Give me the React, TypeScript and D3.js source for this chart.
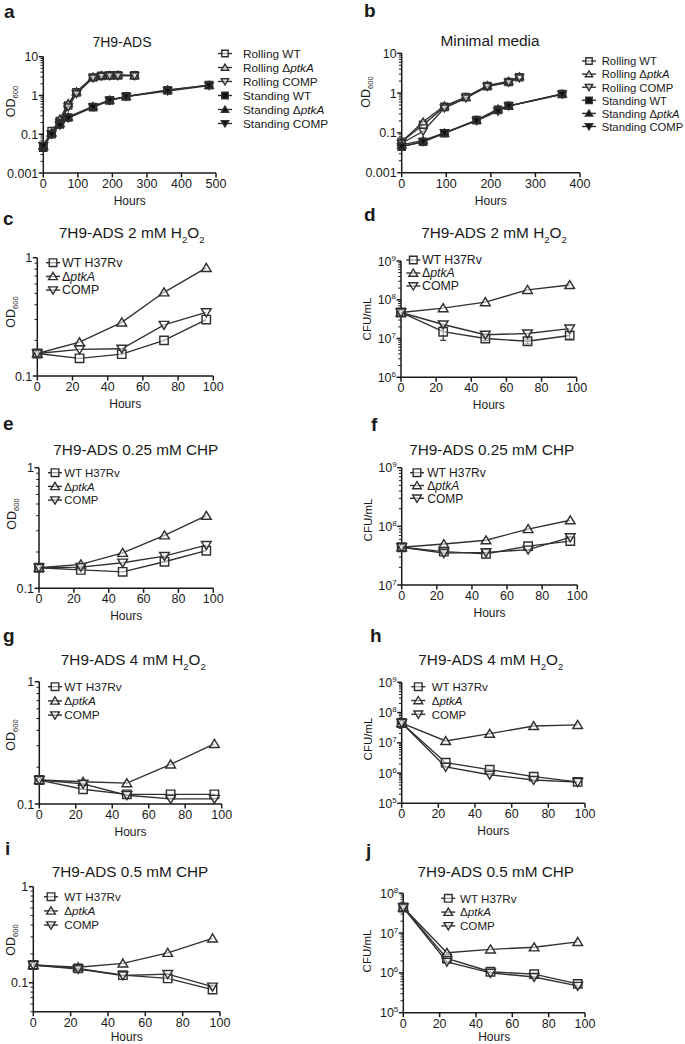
import React from 'react';
import * as d3 from 'd3';

const FONT = '"Liberation Sans", Arial, Helvetica, sans-serif';
const INK = '#1a1a1a';
const LINE = '#303030';

// ---- panel a : 7H9-ADS growth ----
const rollingHoursA = [0, 24, 48, 72, 96, 144, 168, 192, 216, 264];
const rollingWtA = [0.05, 0.12, 0.22, 0.55, 1.2, 2.9, 3.2, 3.3, 3.3, 3.3];
const rollingPtkaA = [0.05, 0.11, 0.25, 0.62, 1.25, 3.0, 3.3, 3.3, 3.4, 3.3];
const rollingCompA = [0.05, 0.1, 0.2, 0.5, 1.1, 2.8, 3.1, 3.2, 3.2, 3.2];
const standingHoursA = [0, 24, 48, 72, 144, 192, 240, 360, 480];
const standingWtA = [0.045, 0.1, 0.18, 0.27, 0.5, 0.75, 0.95, 1.35, 1.85];
const standingPtkaA = [0.05, 0.11, 0.19, 0.28, 0.52, 0.77, 0.94, 1.4, 1.85];
const standingCompA = [0.05, 0.1, 0.17, 0.26, 0.5, 0.74, 0.93, 1.3, 1.8];

// ---- panel b : minimal media growth ----
const rollingHoursB = [0, 48, 96, 144, 192, 240, 264];
const rollingWtB = [0.06, 0.16, 0.45, 0.8, 1.5, 1.9, 2.5];
const rollingPtkaB = [0.06, 0.19, 0.48, 0.78, 1.55, 2.0, 2.6];
const rollingCompB = [0.055, 0.11, 0.42, 0.75, 1.45, 1.85, 2.4];
const standingHoursB = [0, 48, 96, 168, 216, 240, 360];
const standingWtB = [0.045, 0.06, 0.098, 0.21, 0.38, 0.48, 0.95];
const standingPtkaB = [0.05, 0.065, 0.1, 0.21, 0.4, 0.48, 0.95];
const standingCompB = [0.045, 0.06, 0.1, 0.2, 0.35, 0.47, 0.93];

const growthLabels = ['Rolling WT', 'Rolling \u0394ptkA', 'Rolling COMP', 'Standing WT', 'Standing \u0394ptkA', 'Standing COMP'];

// ---- stress panels c-j ----
const stressHours = [0, 24, 48, 72, 96];
const strainLabels = ['WT H37Rv', '\u0394ptkA', 'COMP'];

const odH2o2Wt = [0.155, 0.141, 0.153, 0.2, 0.3];
const odH2o2Ptka = [0.155, 0.193, 0.284, 0.51, 0.82];
const odH2o2Comp = [0.155, 0.168, 0.17, 0.27, 0.345];

const cfuH2o2Wt = [4.7e7, 1.5e7, 1.0e7, 8.5e6, 1.2e7];
const cfuH2o2WtErr = [0, 6e6, 1.2e6, 1.2e6, 2e6];
const cfuH2o2Ptka = [4.7e7, 6.1e7, 8.7e7, 1.8e8, 2.4e8];
const cfuH2o2Comp = [4.7e7, 2.3e7, 1.25e7, 1.35e7, 1.8e7];

const odChpWt = [0.148, 0.142, 0.137, 0.166, 0.205];
const odChpPtka = [0.148, 0.158, 0.197, 0.275, 0.4];
const odChpComp = [0.148, 0.15, 0.163, 0.185, 0.228];

const cfuChpWt = [4.4e7, 3.7e7, 3.4e7, 4.6e7, 5.6e7];
const cfuChpPtka = [4.4e7, 5.0e7, 5.8e7, 9.0e7, 1.27e8];
const cfuChpComp = [4.4e7, 3.5e7, 3.6e7, 4.0e7, 6.5e7];

const od4H2o2Wt = [0.157, 0.132, 0.12, 0.12, 0.12];
const od4H2o2Ptka = [0.157, 0.152, 0.148, 0.211, 0.31];
const od4H2o2Comp = [0.157, 0.146, 0.118, 0.11, 0.11];

const cfu4H2o2Wt = [4.5e7, 2.2e6, 1.3e6, 7.6e5, 5.1e5];
const cfu4H2o2Ptka = [4.5e7, 1.15e7, 2.0e7, 3.6e7, 3.9e7];
const cfu4H2o2Comp = [4.5e7, 1.6e6, 8.8e5, 5.9e5, 5.0e5];

const od05ChpWt = [0.153, 0.141, 0.12, 0.111, 0.085];
const od05ChpPtka = [0.153, 0.145, 0.159, 0.205, 0.29];
const od05ChpComp = [0.153, 0.139, 0.119, 0.123, 0.091];

const cfu05ChpWt = [4.4e7, 2.3e6, 1.07e6, 9.3e5, 5.3e5];
const cfu05ChpPtka = [4.4e7, 3.2e6, 3.9e6, 4.4e6, 6.0e6];
const cfu05ChpComp = [4.4e7, 1.9e6, 1.0e6, 7.9e5, 4.7e5];

type Shape = 'square' | 'up' | 'down';
type Series = { label: string; hours: number[]; values: number[]; shape: Shape; filled: boolean; err?: number[] };

function label(text: string) {
  const i = text.indexOf('ptkA');
  if (i < 0) return text;
  return (
    <>
      {text.slice(0, i)}
      <tspan fontStyle="italic">ptkA</tspan>
      {text.slice(i + 4)}
    </>
  );
}

function markerPath(shape: Shape, r: number) {
  if (shape === 'square') return `M${-r},${-r}H${r}V${r}H${-r}Z`;
  const w = r * 1.15, h = r * 1.0;
  if (shape === 'up') return `M0,${-h * 1.05}L${w},${h * 0.85}L${-w},${h * 0.85}Z`;
  return `M0,${h * 1.05}L${w},${-h * 0.85}L${-w},${-h * 0.85}Z`;
}

const h2o2 = (prefix: string) => (
  <>
    {prefix}H<tspan dy={4.5} fontSize={9.5}>2</tspan>
    <tspan dy={-4.5}>O</tspan>
    <tspan dy={4.5} fontSize={9.5}>2</tspan>
  </>
);

const pow10 = (e: number) => (
  <>
    10<tspan dy={-5} fontSize={8}>{e}</tspan>
  </>
);

const triple = (wt: number[], ptka: number[], comp: number[], err?: number[]): Series[] => [
  { label: strainLabels[0], hours: stressHours, values: wt, shape: 'square', filled: false, err },
  { label: strainLabels[1], hours: stressHours, values: ptka, shape: 'up', filled: false },
  { label: strainLabels[2], hours: stressHours, values: comp, shape: 'down', filled: false },
];

type Spec = {
  letter: string; letterPos: [number, number];
  title: React.ReactNode; titlePos: [number, number]; titleSize: number;
  xMax: number; xStep: number; xRange: [number, number];
  yDomain: [number, number]; yRange: [number, number];
  yTicks: number[]; yTickLabels: React.ReactNode[];
  yLabel: 'od' | 'cfu'; yLabelPos: [number, number];
  legend: [number, number, number, number]; legendSize: number;
  markerR: number;
  series: Series[];
};

const odTicks = [1, 0.1];
const odTickLabels = ['1', '0.1'];

const specs: Spec[] = [
  {
    letter: 'a', letterPos: [4, 18],
    title: '7H9-ADS', titlePos: [122, 46.5], titleSize: 14,
    xMax: 500, xStep: 100, xRange: [43.3, 216],
    yDomain: [0.01, 10], yRange: [56.7, 173],
    yTicks: [10, 1, 0.1, 0.01], yTickLabels: ['10', '1', '0.1', '0.001'],
    yLabel: 'od', yLabelPos: [14.5, 101.5],
    legend: [225, 243, 53.5, 14], legendSize: 11.8, markerR: 3.6,
    series: [
      { label: growthLabels[0], hours: rollingHoursA, values: rollingWtA, shape: 'square', filled: false },
      { label: growthLabels[1], hours: rollingHoursA, values: rollingPtkaA, shape: 'up', filled: false },
      { label: growthLabels[2], hours: rollingHoursA, values: rollingCompA, shape: 'down', filled: false },
      { label: growthLabels[3], hours: standingHoursA, values: standingWtA, shape: 'square', filled: true },
      { label: growthLabels[4], hours: standingHoursA, values: standingPtkaA, shape: 'up', filled: true },
      { label: growthLabels[5], hours: standingHoursA, values: standingCompA, shape: 'down', filled: true },
    ],
  },
  {
    letter: 'b', letterPos: [364, 17],
    title: 'Minimal media', titlePos: [490, 46], titleSize: 15.4,
    xMax: 400, xStep: 100, xRange: [401.7, 580],
    yDomain: [0.01, 10], yRange: [53.3, 172.7],
    yTicks: [10, 1, 0.1, 0.01], yTickLabels: ['10', '1', '0.1', '0.001'],
    yLabel: 'od', yLabelPos: [370, 92],
    legend: [589, 601.7, 61, 13.1], legendSize: 11.3, markerR: 3.6,
    series: [
      { label: growthLabels[0], hours: rollingHoursB, values: rollingWtB, shape: 'square', filled: false },
      { label: growthLabels[1], hours: rollingHoursB, values: rollingPtkaB, shape: 'up', filled: false },
      { label: growthLabels[2], hours: rollingHoursB, values: rollingCompB, shape: 'down', filled: false },
      { label: growthLabels[3], hours: standingHoursB, values: standingWtB, shape: 'square', filled: true },
      { label: growthLabels[4], hours: standingHoursB, values: standingPtkaB, shape: 'up', filled: true },
      { label: growthLabels[5], hours: standingHoursB, values: standingCompB, shape: 'down', filled: true },
    ],
  },
  {
    letter: 'c', letterPos: [3, 225],
    title: h2o2('7H9-ADS 2 mM '), titlePos: [131.7, 238], titleSize: 15.4,
    xMax: 100, xStep: 20, xRange: [37.3, 213.3],
    yDomain: [0.1, 1], yRange: [257.7, 376],
    yTicks: odTicks, yTickLabels: odTickLabels,
    yLabel: 'od', yLabelPos: [15, 312],
    legend: [53, 62, 262.7, 13.7], legendSize: 12.4, markerR: 4.2,
    series: triple(odH2o2Wt, odH2o2Ptka, odH2o2Comp),
  },
  {
    letter: 'd', letterPos: [364, 221],
    title: h2o2('7H9-ADS 2 mM '), titlePos: [494, 238], titleSize: 15.4,
    xMax: 100, xStep: 20, xRange: [401, 576.7],
    yDomain: [1e6, 1e9], yRange: [261, 377.3],
    yTicks: [1e9, 1e8, 1e7, 1e6], yTickLabels: [pow10(9), pow10(8), pow10(7), pow10(6)],
    yLabel: 'cfu', yLabelPos: [371, 319],
    legend: [413.3, 422, 260, 13], legendSize: 12.3, markerR: 4.2,
    series: triple(cfuH2o2Wt, cfuH2o2Ptka, cfuH2o2Comp, cfuH2o2WtErr),
  },
  {
    letter: 'e', letterPos: [3, 430],
    title: '7H9-ADS 0.25 mM CHP', titlePos: [135.8, 455], titleSize: 15.3,
    xMax: 100, xStep: 20, xRange: [39, 213.3],
    yDomain: [0.1, 1], yRange: [467.7, 588.3],
    yTicks: odTicks, yTickLabels: odTickLabels,
    yLabel: 'od', yLabelPos: [15.5, 514],
    legend: [55, 64.3, 472.7, 13.7], legendSize: 11.4, markerR: 4.2,
    series: triple(odChpWt, odChpPtka, odChpComp),
  },
  {
    letter: 'f', letterPos: [371, 431],
    title: '7H9-ADS 0.25 mM CHP', titlePos: [491.7, 455], titleSize: 15.3,
    xMax: 100, xStep: 20, xRange: [401.7, 577.3],
    yDomain: [1e7, 1e9], yRange: [467.7, 585],
    yTicks: [1e9, 1e8, 1e7], yTickLabels: [pow10(9), pow10(8), pow10(7)],
    yLabel: 'cfu', yLabelPos: [372, 520],
    legend: [417, 427.3, 472.7, 12.8], legendSize: 12, markerR: 4.2,
    series: triple(cfuChpWt, cfuChpPtka, cfuChpComp),
  },
  {
    letter: 'g', letterPos: [3, 642],
    title: h2o2('7H9-ADS 4 mM '), titlePos: [133.3, 665], titleSize: 15.3,
    xMax: 100, xStep: 20, xRange: [39.3, 221.7],
    yDomain: [0.1, 1], yRange: [681.7, 804],
    yTicks: odTicks, yTickLabels: odTickLabels,
    yLabel: 'od', yLabelPos: [15, 735],
    legend: [55, 64.3, 686.7, 14.2], legendSize: 11.8, markerR: 4.2,
    series: triple(od4H2o2Wt, od4H2o2Ptka, od4H2o2Comp),
  },
  {
    letter: 'h', letterPos: [370, 642],
    title: h2o2('7H9-ADS 4 mM '), titlePos: [490.8, 665], titleSize: 15.3,
    xMax: 100, xStep: 20, xRange: [401.7, 585],
    yDomain: [1e5, 1e9], yRange: [682.3, 803.3],
    yTicks: [1e9, 1e8, 1e7, 1e6, 1e5], yTickLabels: [pow10(9), pow10(8), pow10(7), pow10(6), pow10(5)],
    yLabel: 'cfu', yLabelPos: [372, 739],
    legend: [418.3, 431.7, 686.7, 13.8], legendSize: 11.5, markerR: 4.2,
    series: triple(cfu4H2o2Wt, cfu4H2o2Ptka, cfu4H2o2Comp),
  },
  {
    letter: 'i', letterPos: [5, 855],
    title: '7H9-ADS 0.5 mM CHP', titlePos: [130, 876.5], titleSize: 15.3,
    xMax: 100, xStep: 20, xRange: [33.3, 220],
    yDomain: [0.05, 1], yRange: [886.7, 1011.7],
    yTicks: odTicks, yTickLabels: odTickLabels,
    yLabel: 'od', yLabelPos: [15, 940],
    legend: [51, 64.3, 896.7, 14.2], legendSize: 11.6, markerR: 4.2,
    series: triple(od05ChpWt, od05ChpPtka, od05ChpComp),
  },
  {
    letter: 'j', letterPos: [366, 857],
    title: '7H9-ADS 0.5 mM CHP', titlePos: [495.8, 876.5], titleSize: 15.3,
    xMax: 100, xStep: 20, xRange: [403.3, 585],
    yDomain: [1e5, 1e8], yRange: [893.3, 1012.7],
    yTicks: [1e8, 1e7, 1e6, 1e5], yTickLabels: [pow10(8), pow10(7), pow10(6), pow10(5)],
    yLabel: 'cfu', yLabelPos: [371, 951],
    legend: [448.3, 460, 898.3, 13.8], legendSize: 11.6, markerR: 4.2,
    series: triple(cfu05ChpWt, cfu05ChpPtka, cfu05ChpComp),
  },
];

function minorTicks(domain: [number, number]) {
  const out: number[] = [];
  const lo = Math.floor(Math.log10(domain[0]));
  const hi = Math.ceil(Math.log10(domain[1]));
  for (let e = lo; e < hi; e++) {
    for (let k = 2; k <= 9; k++) {
      const v = k * Math.pow(10, e);
      if (v >= domain[0] * 0.999 && v <= domain[1] * 1.001) out.push(v);
    }
  }
  return out;
}

function Panel({ s }: { s: Spec }) {
  const x = d3.scaleLinear().domain([0, s.xMax]).range(s.xRange);
  const y = d3.scaleLog().domain(s.yDomain).range([s.yRange[1], s.yRange[0]]);
  const line = d3.line<[number, number]>().x((d) => x(d[0])).y((d) => y(d[1]));
  const x0 = s.xRange[0];
  const yb = s.yRange[1];
  const xTicks = d3.range(0, s.xMax + 1, s.xStep);
  const [lmx, ltx, ly0, lstep] = s.legend;

  return (
    <g fontFamily={FONT} fill={INK}>
      <text x={s.letterPos[0]} y={s.letterPos[1]} fontSize={19} fontWeight="bold">{s.letter}</text>
      <text x={s.titlePos[0]} y={s.titlePos[1]} fontSize={s.titleSize} textAnchor="middle">{s.title}</text>

      {/* axes */}
      <g stroke={INK} strokeWidth={1.5} fill="none">
        <line x1={x0} x2={x0} y1={s.yRange[0]} y2={yb} />
        <line x1={x0} x2={s.xRange[1]} y1={yb} y2={yb} />
        {xTicks.map((t) => (
          <line key={'xt' + t} x1={x(t)} x2={x(t)} y1={yb} y2={yb + 4.5} />
        ))}
        {s.yTicks.map((t) => (
          <line key={'yt' + t} x1={x0 - 4.5} x2={x0} y1={y(t)} y2={y(t)} />
        ))}
        {minorTicks(s.yDomain).map((t) => (
          <line key={'ym' + t} x1={x0 - 2.8} x2={x0} y1={y(t)} y2={y(t)} strokeWidth={1} />
        ))}
      </g>
      {xTicks.map((t) => (
        <text key={'xl' + t} x={x(t)} y={yb + 15} fontSize={12.5} textAnchor="middle">{t}</text>
      ))}
      {s.yTicks.map((t, i) => (
        <text key={'yl' + t} x={x0 - 5} y={y(t) + 4.5} fontSize={12.5} textAnchor="end">{s.yTickLabels[i]}</text>
      ))}
      <text x={(s.xRange[0] + s.xRange[1]) / 2} y={Math.min(yb + 32, 1041)} fontSize={12} textAnchor="middle">Hours</text>
      <text transform={`translate(${s.yLabelPos[0]},${s.yLabelPos[1]}) rotate(-90)`} fontSize={s.yLabel === 'od' ? 12.5 : 11.5} textAnchor="middle">
        {s.yLabel === 'od' ? (
          <>
            OD<tspan dy={3} fontSize={7.5}>600</tspan>
          </>
        ) : 'CFU/mL'}
      </text>

      {/* series */}
      {s.series.map((se, si) => {
        const pts = se.hours.map((h, i) => [h, se.values[i]] as [number, number]);
        return (
          <g key={'s' + si}>
            <path d={line(pts) || ''} fill="none" stroke={LINE} strokeWidth={1.35} />
            {se.err &&
              pts.map((p, i) =>
                se.err![i] > 0 ? (
                  <g key={'e' + i} stroke={LINE} strokeWidth={1.2}>
                    <line x1={x(p[0])} x2={x(p[0])} y1={y(p[1] - se.err![i])} y2={y(p[1] + se.err![i])} />
                    <line x1={x(p[0]) - 3} x2={x(p[0]) + 3} y1={y(p[1] - se.err![i])} y2={y(p[1] - se.err![i])} />
                    <line x1={x(p[0]) - 3} x2={x(p[0]) + 3} y1={y(p[1] + se.err![i])} y2={y(p[1] + se.err![i])} />
                  </g>
                ) : null
              )}
            {pts.map((p, i) => (
              <path
                key={'m' + i}
                d={markerPath(se.shape, s.markerR)}
                transform={`translate(${x(p[0])},${y(p[1])})`}
                fill={se.filled ? '#111' : '#ffffff'}
                fillOpacity={se.filled ? 1 : 0.55}
                stroke={LINE}
                strokeWidth={1.45}
              />
            ))}
          </g>
        );
      })}

      {/* legend */}
      {s.series.map((se, si) => {
        const ly = ly0 + si * lstep;
        return (
          <g key={'l' + si}>
            <line x1={lmx - 7} x2={lmx + 7} y1={ly} y2={ly} stroke={LINE} strokeWidth={1.4} />
            <path
              d={markerPath(se.shape, s.markerR - 0.4)}
              transform={`translate(${lmx},${ly})`}
              fill={se.filled ? '#111' : '#ffffff'}
              fillOpacity={se.filled ? 1 : 0.55}
              stroke={LINE}
              strokeWidth={1.4}
            />
            <text x={ltx} y={ly + 4.3} fontSize={s.legendSize}>{label(se.label)}</text>
          </g>
        );
      })}
    </g>
  );
}

export default function App() {
  return (
    <svg
      width={685}
      height={1044}
      viewBox="0 0 685 1044"
      style={{ position: 'absolute', left: 0, top: 0, display: 'block', background: '#fff' }}
    >
      <rect width={685} height={1044} fill="#fff" />
      {specs.map((s) => (
        <Panel key={s.letter} s={s} />
      ))}
    </svg>
  );
}
